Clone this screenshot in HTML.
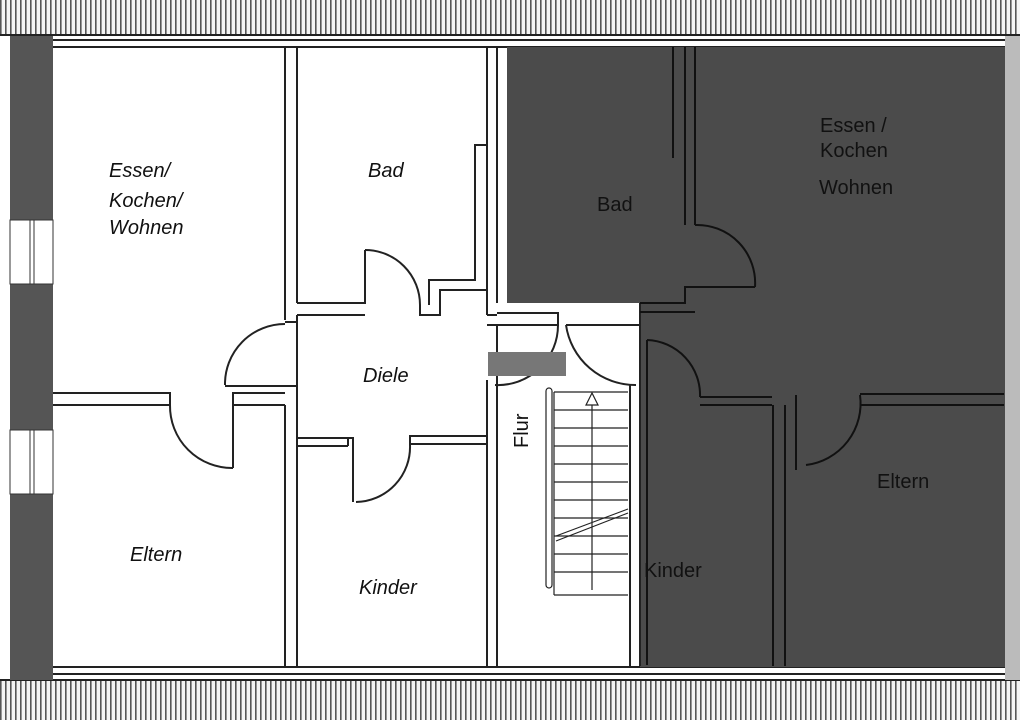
<!DOCTYPE html>
<html><head><meta charset="utf-8"><style>
html,body{margin:0;padding:0;background:#fff;}
svg{display:block}
text{font-family:"Liberation Sans",sans-serif;}
.it{font-style:italic;font-size:20px;fill:#111}
.rg{font-size:20px;fill:#111}
</style></head><body>
<svg width="1020" height="720" viewBox="0 0 1020 720" xmlns="http://www.w3.org/2000/svg">
<defs>
<pattern id="hatch" width="5" height="10" patternUnits="userSpaceOnUse">
<rect width="5" height="10" fill="#f4f4f4"/><rect x="0" width="1.6" height="10" fill="#555"/>
</pattern>
</defs>
<rect width="1020" height="720" fill="#fff"/>
<rect x="0" y="0" width="1020" height="35" fill="url(#hatch)"/>
<line x1="0" y1="35" x2="1020" y2="35" stroke="#222" stroke-width="2"/>
<rect x="0" y="680" width="1020" height="40" fill="url(#hatch)"/>
<line x1="0" y1="680" x2="1020" y2="680" stroke="#222" stroke-width="2"/>
<rect x="10" y="36" width="43" height="644" fill="#555"/>
<rect x="10" y="220" width="43" height="64" fill="#fff" stroke="#333" stroke-width="1"/>
<line x1="30" y1="220" x2="30" y2="284" stroke="#333"/><line x1="34" y1="220" x2="34" y2="284" stroke="#333"/>
<rect x="10" y="430" width="43" height="64" fill="#fff" stroke="#333" stroke-width="1"/>
<line x1="30" y1="430" x2="30" y2="494" stroke="#333"/><line x1="34" y1="430" x2="34" y2="494" stroke="#333"/>
<rect x="1005" y="36" width="15" height="644" fill="#bbb"/>
<g stroke="#222" stroke-width="2" fill="none">
<line x1="53" y1="40" x2="1005" y2="40"/>
<line x1="53" y1="47" x2="1005" y2="47"/>
<line x1="53" y1="667" x2="1005" y2="667"/>
<line x1="53" y1="674" x2="1005" y2="674"/>
</g>
<polygon points="507,47 1005,47 1005,667 640,667 640,303 507,303" fill="#4b4b4b"/>
<g stroke="#222" stroke-width="2" fill="none">
<line x1="285" y1="47" x2="285" y2="320"/><line x1="297" y1="47" x2="297" y2="303"/>
<line x1="487" y1="47" x2="487" y2="303"/><line x1="497" y1="47" x2="497" y2="303"/>
<polyline points="297,303 365,303 365,250"/>
<polyline points="297,315 365,315"/>
<path d="M365,250 A55,55 0 0 1 420,305"/>
<polyline points="420,305 420,315 440,315 440,290 487,290"/>
<polyline points="429,305 429,280 475,280 475,145 487,145"/>
<line x1="497" y1="315" x2="487" y2="315"/>
<line x1="487" y1="303" x2="487" y2="315"/>
<line x1="297" y1="315" x2="297" y2="666"/><line x1="285" y1="405" x2="285" y2="666"/>
<path d="M285,324 A60,60 0 0 0 225,385"/>
<line x1="225" y1="386" x2="297" y2="386"/>
<line x1="297" y1="322" x2="285" y2="322"/>
<polyline points="53,393 170,393 170,405 53,405"/>
<path d="M170,405 A62,62 0 0 0 233,468"/>
<polyline points="233,468 233,393 285,393"/><line x1="233" y1="405" x2="285" y2="405"/>
<polyline points="298,438 353,438 353,502"/><line x1="298" y1="446" x2="348" y2="446"/>
<polyline points="348,446 348,438"/>
<path d="M410,445 A55,55 0 0 1 356,502"/>
<polyline points="410,445 410,436 488,436"/><line x1="410" y1="444" x2="487" y2="444"/>
<line x1="487" y1="380" x2="487" y2="666"/><line x1="497" y1="325" x2="497" y2="666"/>
<line x1="487" y1="325" x2="497" y2="325"/>
<polyline points="497,313 558,313 558,325 497,325"/>
<line x1="630" y1="385" x2="630" y2="666"/>
<line x1="640" y1="303" x2="640" y2="666"/>
<path d="M558,325 A60,60 0 0 1 495,385"/>
<path d="M566,325 A70,70 0 0 0 636,385"/>
<line x1="566" y1="325" x2="640" y2="325"/>
</g>
<rect x="488" y="352" width="78" height="24" fill="#777"/>
<g stroke="#222" stroke-width="1.2" fill="none">
<rect x="546" y="388" width="6" height="200" rx="3"/>
<line x1="554" y1="392" x2="554" y2="595"/>
<line x1="554" y1="392" x2="628" y2="392"/>
<line x1="554" y1="410" x2="628" y2="410"/><line x1="554" y1="428" x2="628" y2="428"/>
<line x1="554" y1="446" x2="628" y2="446"/><line x1="554" y1="464" x2="628" y2="464"/>
<line x1="554" y1="482" x2="628" y2="482"/><line x1="554" y1="500" x2="628" y2="500"/>
<line x1="554" y1="518" x2="628" y2="518"/><line x1="554" y1="536" x2="628" y2="536"/>
<line x1="554" y1="554" x2="628" y2="554"/><line x1="554" y1="572" x2="628" y2="572"/>
<line x1="554" y1="595" x2="628" y2="595"/>
<line x1="592" y1="405" x2="592" y2="590"/>
<polygon points="592,393 586,405 598,405" fill="#fff"/>
<line x1="556" y1="541" x2="628" y2="513"/><line x1="556" y1="536" x2="628" y2="509"/>
</g>
<g stroke="#111" stroke-width="2" fill="none">
<line x1="673" y1="47" x2="673" y2="158"/><line x1="685" y1="47" x2="685" y2="225"/><line x1="695" y1="47" x2="695" y2="225"/>
<path d="M695,225 A58,58 0 0 1 755,287"/>
<line x1="695" y1="287" x2="755" y2="287"/>
<polyline points="640,303 685,303 685,287 695,287"/>
<line x1="640" y1="312" x2="695" y2="312"/>
<path d="M647,340 A55,55 0 0 1 700,397"/>
<line x1="647" y1="340" x2="647" y2="665"/>
<polyline points="700,397 772,397"/><line x1="700" y1="405" x2="772" y2="405"/>
<line x1="773" y1="405" x2="773" y2="666"/><line x1="785" y1="405" x2="785" y2="666"/><line x1="796" y1="395" x2="796" y2="470"/>
<path d="M860,395 A62,62 0 0 1 806,465"/>
<line x1="860" y1="394" x2="1004" y2="394"/><line x1="860" y1="405" x2="1004" y2="405"/>
</g>
<text class="it" x="109" y="177">Essen/</text>
<text class="it" x="109" y="207">Kochen/</text>
<text class="it" x="109" y="234">Wohnen</text>
<text class="it" x="368" y="177">Bad</text>
<text class="it" x="363" y="382">Diele</text>
<text class="it" x="130" y="561">Eltern</text>
<text class="it" x="359" y="594">Kinder</text>
<text class="rg" x="0" y="0" transform="translate(528,448) rotate(-90)">Flur</text>
<text class="rg" x="597" y="211">Bad</text>
<text class="rg" x="820" y="132">Essen /</text>
<text class="rg" x="820" y="157">Kochen</text>
<text class="rg" x="819" y="194">Wohnen</text>
<text class="rg" x="877" y="488">Eltern</text>
<text class="rg" x="644" y="577">Kinder</text>
</svg>
</body></html>
